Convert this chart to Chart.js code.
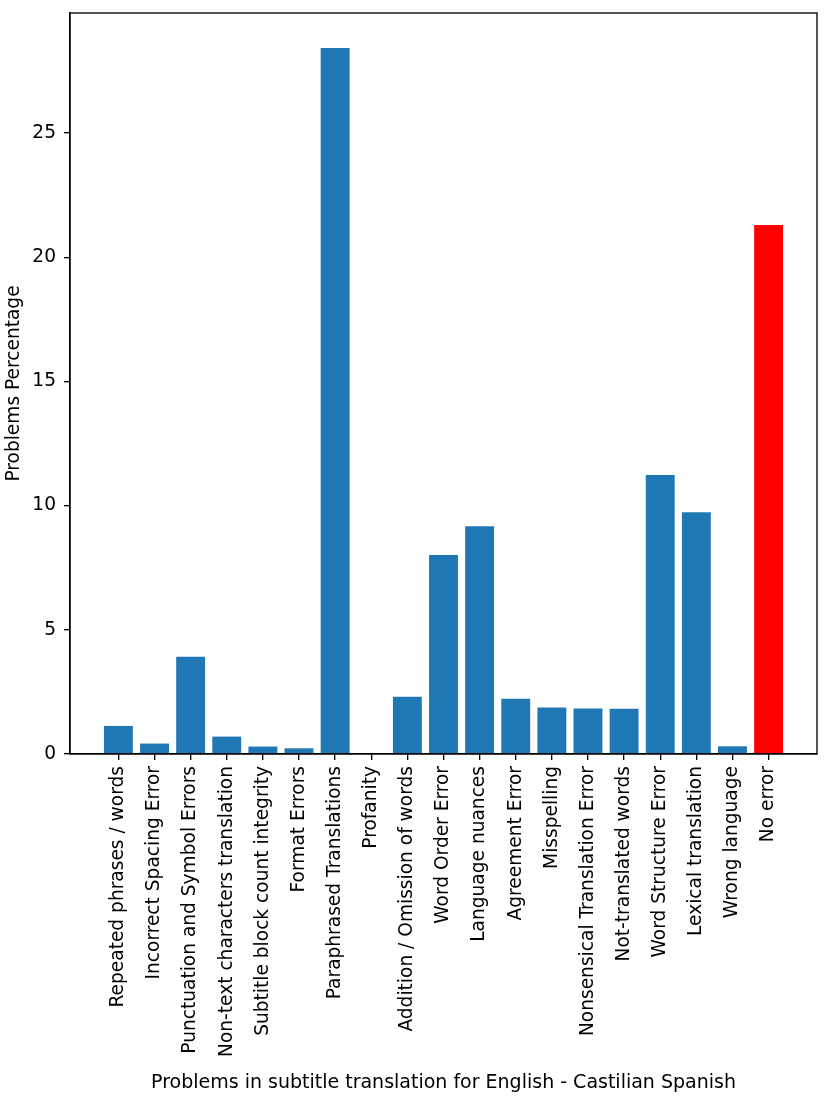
<!DOCTYPE html>
<html>
<head>
<meta charset="utf-8">
<script src="https://cdn.jsdelivr.net/npm/chart.js@4.4.1/dist/chart.umd.min.js"></script>
<style>
  html, body { margin: 0; padding: 0; background: #fff; }
</style>
</head>
<body>
<canvas id="myChart" width="830" height="1100"></canvas>
<script>
// categories along the x axis
var categories = [
  "Repeated phrases / words",
  "Incorrect Spacing Error",
  "Punctuation and Symbol Errors",
  "Non-text characters translation",
  "Subtitle block count integrity",
  "Format Errors",
  "Paraphrased Translations",
  "Profanity",
  "Addition / Omission of words",
  "Word Order Error",
  "Language nuances",
  "Agreement Error",
  "Misspelling",
  "Nonsensical Translation Error",
  "Not-translated words",
  "Word Structure Error",
  "Lexical translation",
  "Wrong language",
  "No error"
];

// percentage per category
var percentages = [1.13, 0.42, 3.91, 0.70, 0.30, 0.23, 28.42, 0.03, 2.30, 8.01,
                   9.17, 2.22, 1.87, 1.83, 1.82, 11.23, 9.73, 0.31, 21.30];

var yTicks = [0, 5, 10, 15, 20, 25];

var FONT = "'DejaVu Sans', sans-serif";
var FSIZE = 18.6;

// frame around plot area (matplotlib style box)
var framePlugin = {
  id: 'frame',
  afterDraw: function (chart) {
    var a = chart.chartArea, c = chart.ctx;
    c.save();
    c.strokeStyle = '#000';
    c.lineWidth = 1.33;
    c.strokeRect(a.left, a.top, a.right - a.left, a.bottom - a.top);
    c.restore();
  }
};

var points = categories.map(function (c, i) { return { x: i, y: percentages[i] }; });
var colors = categories.map(function (c) { return c === "No error" ? '#ff0000' : '#1f77b4'; });

var ctx = document.getElementById("myChart");
var chart = new Chart(ctx, {
  type: 'bar',
  data: {
    datasets: [{
      data: points,
      backgroundColor: colors,
      borderWidth: 0,
      barPercentage: 0.8,
      categoryPercentage: 1.0
    }]
  },
  plugins: [framePlugin],
  options: {
    responsive: false,
    animation: false,
    devicePixelRatio: 1,
    layout: { padding: { top: 13, right: 13, left: 0, bottom: 0 } },
    plugins: { legend: { display: false }, tooltip: { enabled: false } },
    scales: {
      x: {
        type: 'linear',
        offset: false,
        min: -1.34,
        max: 19.34,
        afterBuildTicks: function (scale) {
          scale.ticks = categories.map(function (c, i) { return { value: i }; });
        },
        afterFit: function (scale) {
          scale.height = 346;
          scale.paddingLeft = 0;
          scale.paddingRight = 0;
        },
        ticks: {
          autoSkip: false,
          minRotation: 90,
          maxRotation: 90,
          padding: 6,
          color: '#000',
          font: { family: FONT, size: FSIZE },
          callback: function (v) { return categories[v]; }
        },
        grid: {
          offset: false,
          drawOnChartArea: false,
          drawTicks: true,
          tickLength: 6,
          color: '#000',
          lineWidth: 1.33
        },
        border: { display: true, color: '#000', width: 1.33 },
        title: {
          display: true,
          text: "Problems in subtitle translation for English - Castilian Spanish",
          color: '#000',
          font: { family: FONT, size: 19 },
          padding: { top: 4, bottom: 6 }
        }
      },
      y: {
        min: 0,
        max: 29.83,
        afterBuildTicks: function (scale) {
          scale.ticks = yTicks.map(function (v) { return { value: v }; });
        },
        afterFit: function (scale) {
          scale.width = 70;
          scale.paddingTop = 0;
          scale.paddingBottom = 0;
        },
        ticks: {
          padding: 8,
          color: '#000',
          font: { family: FONT, size: FSIZE }
        },
        grid: {
          drawOnChartArea: false,
          drawTicks: true,
          tickLength: 6,
          color: '#000',
          lineWidth: 1.33
        },
        border: { display: true, color: '#000', width: 1.33 },
        title: {
          display: true,
          text: "Problems Percentage",
          color: '#000',
          font: { family: FONT, size: FSIZE },
          padding: { top: 3, bottom: 4 }
        }
      }
    }
  }
});
</script>
</body>
</html>
